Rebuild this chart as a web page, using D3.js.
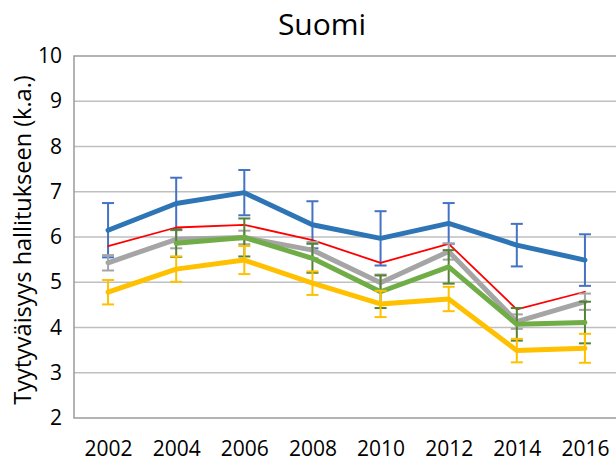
<!DOCTYPE html>
<html><head><meta charset="utf-8">
<script src="https://cdn.jsdelivr.net/npm/d3@7"></script>
<style>body{margin:0;background:#fff}svg{display:block}text{font-family:"Open Sans","Noto Sans",sans-serif;fill:#000}</style>
</head><body>
<script>
const years = ["2002","2004","2006","2008","2010","2012","2014","2016"];
const yTicks = [2,3,4,5,6,7,8,9,10];
const blue   = [6.15,6.74,6.98,6.27,5.97,6.30,5.82,5.49];
const blueErr= [0.60,0.57,0.50,0.52,0.60,0.45,0.47,0.57];
const red    = [5.80,6.21,6.27,5.93,5.43,5.85,4.40,4.79];
const gray   = [5.43,5.95,5.99,5.71,4.99,5.68,4.13,4.57];
const grayErr= [0.17,0.20,0.15,0.18,0.18,0.18,0.16,0.18];
const green  = [null,5.86,5.99,5.53,4.79,5.34,4.07,4.11];
const greenErr=[null,0.30,0.42,0.32,0.36,0.37,0.36,0.46];
const yellow = [4.78,5.29,5.49,4.98,4.52,4.63,3.49,3.54];
const yellowErr=[0.27,0.28,0.31,0.26,0.29,0.27,0.26,0.32];

const W=616,H=466;
const svg=d3.select("body").append("svg").attr("width",W).attr("height",H);
const pL=74,pR=619,pT=56,pB=418;
const x=d3.scalePoint().domain(years).range([pL,pR]).padding(0.5);
const y=d3.scaleLinear().domain([2,10]).range([pB,pT]);

// gridlines
svg.append("g").selectAll("line").data(yTicks.slice(1,-1)).join("line")
  .attr("x1",pL).attr("x2",pR).attr("y1",d=>y(d)).attr("y2",d=>y(d))
  .attr("stroke","#bfbfbf").attr("stroke-width",1.5);
// frame
svg.append("rect").attr("x",pL).attr("y",pT).attr("width",pR-pL).attr("height",pB-pT)
  .attr("fill","none").attr("stroke","#9a9a9a").attr("stroke-width",1.5);

// axes
const ya=d3.axisLeft(y).tickValues(yTicks).tickSize(0).tickPadding(12).tickFormat(d3.format("d"));
const gy=svg.append("g").attr("transform",`translate(${pL},0)`).call(ya);
gy.select(".domain").remove();
gy.selectAll("text").style("font-size","21px").attr("fill","#000");
const xa=d3.axisBottom(x).tickSize(0).tickPadding(23);
const gx=svg.append("g").attr("transform",`translate(0,${pB})`).call(xa);
gx.select(".domain").remove();
gx.selectAll("text").style("font-size","21px").attr("fill","#000");

svg.append("text").attr("x",322).attr("y",35).attr("text-anchor","middle").style("font-size","30px").text("Suomi");
svg.append("text").attr("transform","translate(31,240) rotate(-90)").attr("text-anchor","middle")
  .style("font-size","23.5px").text("Tyytyväisyys hallitukseen (k.a.)");

const line=d3.line().defined(d=>d.v!=null).x(d=>x(d.yr)).y(d=>y(d.v));
function series(vals,errs,lineColor,errColor,lw){
  const pts=years.map((yr,i)=>({yr,v:vals[i],e:errs?errs[i]:null}));
  const g=svg.append("g");
  if(errs){
    const eb=g.selectAll("g.eb").data(pts.filter(p=>p.v!=null&&p.e!=null)).join("g").attr("stroke",errColor).attr("stroke-width",2);
    eb.append("line").attr("x1",d=>x(d.yr)).attr("x2",d=>x(d.yr)).attr("y1",d=>y(d.v+d.e)).attr("y2",d=>y(d.v-d.e));
    eb.append("line").attr("x1",d=>x(d.yr)-6).attr("x2",d=>x(d.yr)+6).attr("y1",d=>y(d.v+d.e)).attr("y2",d=>y(d.v+d.e));
    eb.append("line").attr("x1",d=>x(d.yr)-6).attr("x2",d=>x(d.yr)+6).attr("y1",d=>y(d.v-d.e)).attr("y2",d=>y(d.v-d.e));
  }
  g.append("path").datum(pts).attr("d",line).attr("fill","none").attr("stroke",lineColor)
    .attr("stroke-width",lw).attr("stroke-linejoin","round").attr("stroke-linecap","round");
}
series(blue,blueErr,"#2e75b6","#4472c4",5);
series(red,null,"#ff0000",null,1.8);
series(gray,grayErr,"#a5a5a5","#a5a5a5",5);
series(green,greenErr,"#70ad47","#548235",5);
series(yellow,yellowErr,"#ffc000","#ffc000",5);
</script>
</body></html>
